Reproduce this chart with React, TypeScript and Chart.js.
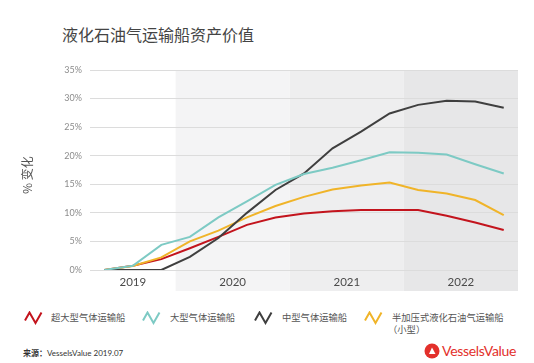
import React, { useEffect, useRef } from "react";
import { Chart, registerables } from "chart.js";

Chart.register(...registerables);

const years = ["2019", "2020", "2021", "2022"];
const quartersPerYear = [3, 4, 4, 4];
const seriesNames = ["超大型气体运输船", "大型气体运输船", "中型气体运输船", "半加压式液化石油气运输船"];
const vlgcValues = [0, 0.75, 1.9, 3.8, 5.8, 7.9, 9.2, 9.9, 10.3, 10.5, 10.5, 10.5, 9.5, 8.3, 7.0];
const lgcValues = [0, 0.75, 4.4, 5.8, 9.2, 12.0, 14.9, 16.8, 17.9, 19.2, 20.6, 20.5, 20.2, 18.5, 16.9];
const mgcValues = [0, 0, 0, 2.3, 5.6, 10.0, 14.0, 16.9, 21.3, 24.2, 27.4, 28.9, 29.6, 29.5, 28.4];
const sprValues = [0, 0.7, 2.2, 5.0, 6.9, 9.2, 11.2, 12.8, 14.1, 14.8, 15.3, 14.0, 13.4, 12.25, 9.6];
const yTicks = [0, 5, 10, 15, 20, 25, 30, 35];

const COLORS = {
  red: "#c3141d",
  teal: "#7dcac4",
  dark: "#3f3f3f",
  yellow: "#f0b429",
};

const FONT = "Lato, 'Noto Sans CJK SC', sans-serif";
const CJK = "'Noto Sans CJK SC', Lato, sans-serif";

// year band boundaries in quarter-index units
function yearBands() {
  const bands: { start: number; end: number; label: string }[] = [];
  let s = -0.5;
  quartersPerYear.forEach((n, i) => {
    bands.push({ start: s, end: s + n, label: years[i] });
    s += n;
  });
  return bands;
}

const bandFills = ["#ffffff", "#f4f4f5", "#eeeeef", "#e7e7e8"];

const bandPlugin = {
  id: "bands",
  beforeDraw(chart: any) {
    const { ctx, chartArea, scales } = chart;
    const x = scales.x;
    ctx.save();
    yearBands().forEach((b, i) => {
      const x0 = x.getPixelForValue(b.start);
      const x1 = x.getPixelForValue(b.end);
      ctx.fillStyle = bandFills[i];
      ctx.fillRect(x0, chartArea.top, x1 - x0, chartArea.bottom - chartArea.top + 21);
    });
    ctx.restore();
  },
};

function toPoints(vals: number[]) {
  return vals.map((v, i) => ({ x: i, y: v }));
}

function LegendIcon({ color }: { color: string }) {
  return (
    <svg width="20" height="14" style={{ position: "absolute", left: 0, top: 0 }}>
      <polyline points="1,9.5 5.5,1.5 11.5,12 17.5,1.5" fill="none" stroke={color} strokeWidth="2" strokeLinejoin="miter" />
    </svg>
  );
}

export default function App() {
  const ref = useRef<HTMLCanvasElement | null>(null);

  useEffect(() => {
    document.body.style.margin = "0";
    const canvas = ref.current!;
    const bands = yearBands();
    const yearCenters = bands.map((b) => (b.start + b.end) / 2);
    const total = quartersPerYear.reduce((a, b) => a + b, 0);
    const chart = new Chart(canvas, {
      type: "line",
      data: {
        datasets: [
          { label: seriesNames[1], data: toPoints(lgcValues), borderColor: COLORS.teal, borderWidth: 2, pointRadius: 0, tension: 0 },
          { label: seriesNames[2], data: toPoints(mgcValues), borderColor: COLORS.dark, borderWidth: 2, pointRadius: 0, tension: 0 },
          { label: seriesNames[3], data: toPoints(sprValues), borderColor: COLORS.yellow, borderWidth: 2, pointRadius: 0, tension: 0 },
          { label: seriesNames[0], data: toPoints(vlgcValues), borderColor: COLORS.red, borderWidth: 2, pointRadius: 0, tension: 0 },
        ],
      },
      options: {
        animation: false,
        responsive: false,
        maintainAspectRatio: false,
        layout: { padding: { top: 70, right: 16, left: 0, bottom: 0 } },
        plugins: { legend: { display: false }, tooltip: { enabled: false }, title: { display: false } },
        scales: {
          x: {
            type: "linear",
            min: -0.5,
            max: total - 0.5,
            grid: { display: false, drawTicks: false },
            border: { display: false },
            afterBuildTicks: (axis: any) => {
              axis.ticks = yearCenters.map((v) => ({ value: v }));
            },
            afterFit: (axis: any) => {
              axis.height = 30;
            },
            ticks: {
              autoSkip: false,
              maxRotation: 0,
              padding: 5,
              color: "#4a4a4a",
              font: { family: FONT, size: 11.5, weight: "normal" },
              callback: (_v: any, idx: number) => years[idx],
            },
          },
          y: {
            min: 0,
            max: 35,
            afterBuildTicks: (axis: any) => {
              axis.ticks = yTicks.map((v) => ({ value: v }));
            },
            afterFit: (axis: any) => {
              axis.width = 90;
            },
            grid: { color: "#dcdcdc", lineWidth: 1, drawTicks: false },
            border: { display: false },
            ticks: {
              padding: 8,
              color: "#8c8c8c",
              font: { family: FONT, size: 9 },
              callback: (v: any) => v + "%",
            },
          },
        },
      } as any,
      plugins: [bandPlugin],
    });
    return () => chart.destroy();
  }, []);

  const legendItems = [
    { left: 24, color: COLORS.red, text: seriesNames[0], textLeft: 51 },
    { left: 142, color: COLORS.teal, text: seriesNames[1], textLeft: 170 },
    { left: 254, color: COLORS.dark, text: seriesNames[2], textLeft: 282 },
    { left: 364, color: COLORS.yellow, text: seriesNames[3], textLeft: 392, sub: "（小型）" },
  ];

  return (
    <div style={{ position: "relative", width: 534, height: 363, background: "#ffffff", overflow: "hidden" }}>
      <div
        style={{
          position: "absolute",
          left: 62,
          top: 23,
          fontFamily: CJK,
          fontSize: 16,
          color: "#444444",
          lineHeight: "22px",
          whiteSpace: "nowrap",
        }}
      >
        液化石油气运输船资产价值
      </div>
      <canvas ref={ref} width={534} height={300} style={{ position: "absolute", left: 0, top: 0, width: 534, height: 300 }} />
      <div
        style={{
          position: "absolute",
          left: 26,
          top: 175,
          transform: "translate(-50%, -50%) rotate(-90deg)",
          fontFamily: CJK,
          fontSize: 12,
          color: "#555555",
          whiteSpace: "nowrap",
        }}
      >
        % 变化
      </div>
      {legendItems.map((it, i) => (
        <React.Fragment key={i}>
          <div style={{ position: "absolute", left: it.left, top: 311, width: 20, height: 14 }}>
            <LegendIcon color={it.color} />
          </div>
          <div
            style={{
              position: "absolute",
              left: it.textLeft,
              top: 311,
              fontFamily: CJK,
              fontSize: 9.3,
              lineHeight: "12px",
              color: "#555555",
              whiteSpace: "nowrap",
            }}
          >
            {it.text}
            {it.sub ? (
              <>
                <br />
                <span style={{ marginLeft: -4 }}>{it.sub}</span>
              </>
            ) : null}
          </div>
        </React.Fragment>
      ))}
      <div
        style={{
          position: "absolute",
          left: 23,
          top: 347,
          fontFamily: CJK,
          fontSize: 8,
          lineHeight: "12px",
          color: "#333333",
          whiteSpace: "nowrap",
        }}
      >
        <span style={{ fontWeight: "bold" }}>来源：</span>
        <span style={{ fontFamily: FONT }}>VesselsValue 2019.07</span>
      </div>
      <div style={{ position: "absolute", left: 424, top: 343, width: 16, height: 16 }}>
        <svg width="16" height="16">
          <circle cx="8" cy="8" r="7.5" fill="#e3302b" />
          <polygon points="5,11 8,4.5 11.5,11" fill="#ffffff" />
        </svg>
      </div>
      <div
        style={{
          position: "absolute",
          left: 442,
          top: 342,
          fontFamily: FONT,
          fontSize: 14,
          lineHeight: "18px",
          color: "#e3302b",
          letterSpacing: -0.3,
          whiteSpace: "nowrap",
        }}
      >
        VesselsValue
      </div>
    </div>
  );
}
